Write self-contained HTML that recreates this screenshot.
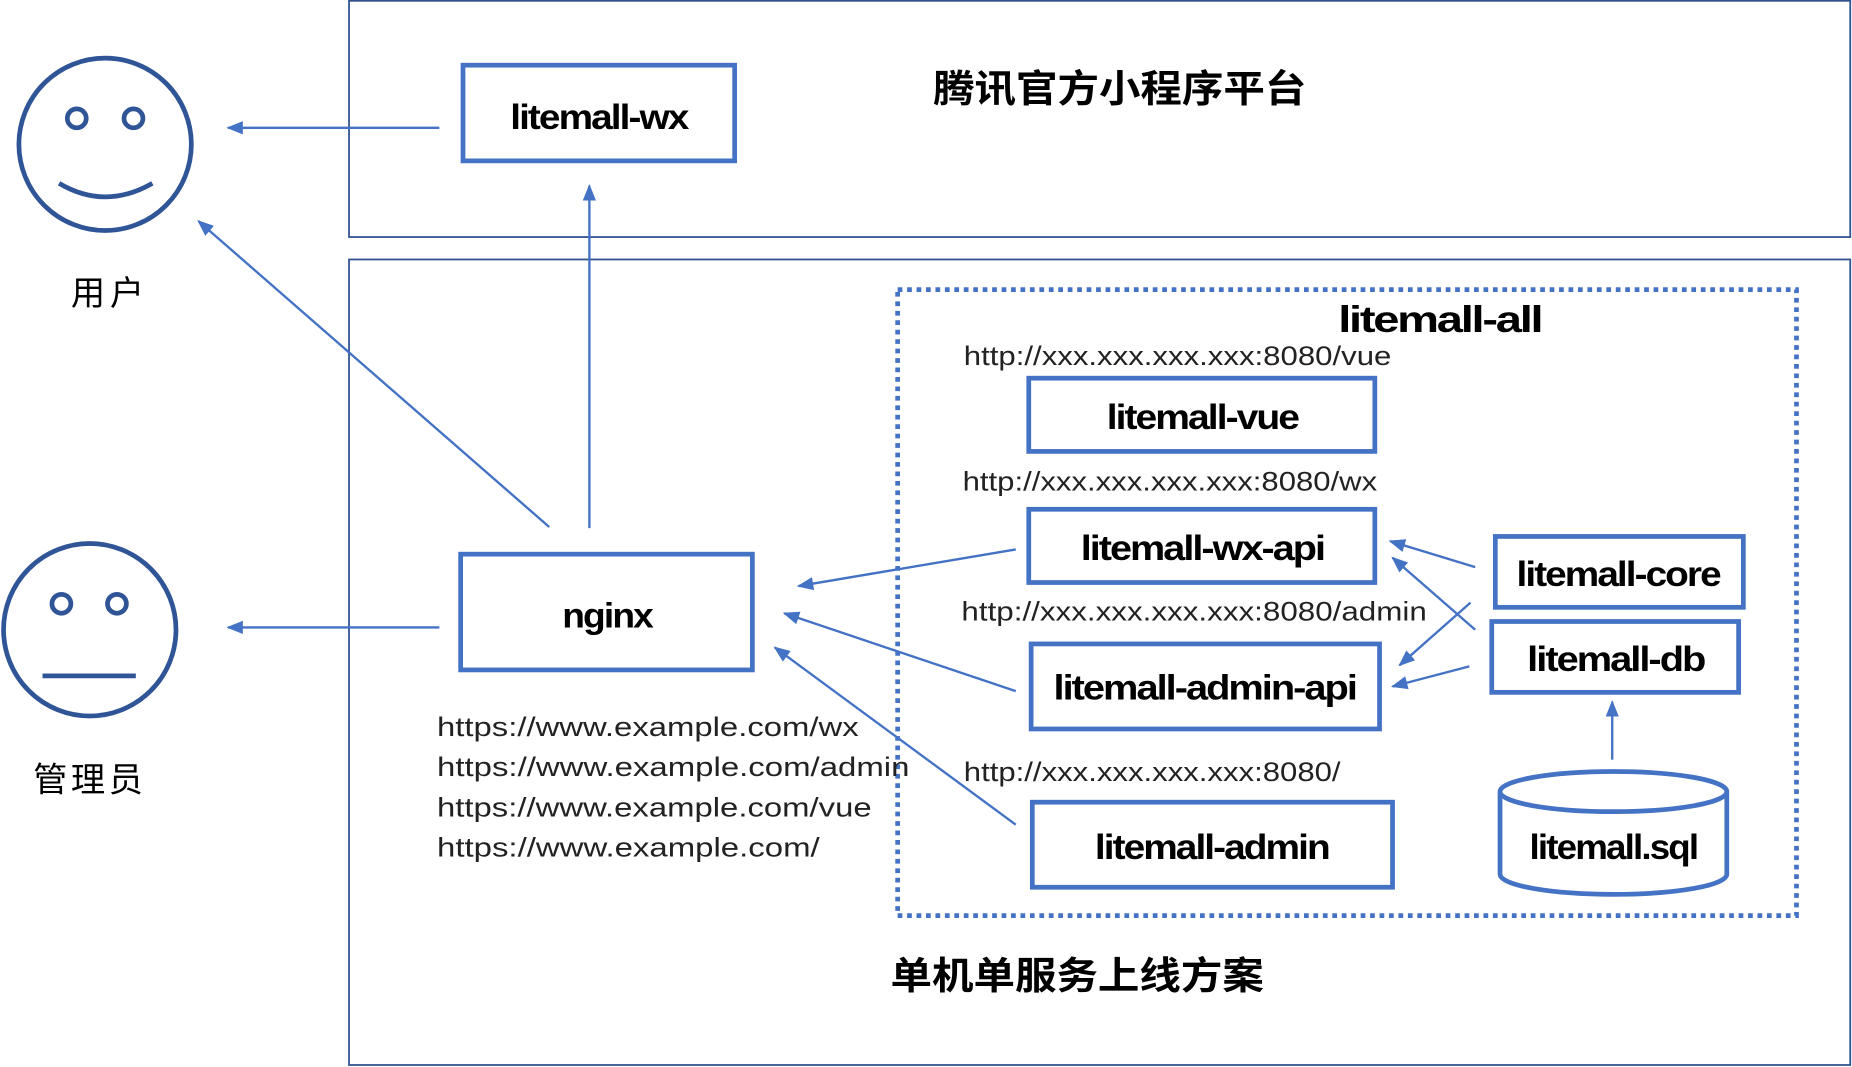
<!DOCTYPE html>
<html><head><meta charset="utf-8"><style>html,body{margin:0;padding:0;background:#fff}svg{display:block}</style></head>
<body>
<svg width="1852" height="1067" viewBox="0 0 1568 903" xmlns="http://www.w3.org/2000/svg" font-family="'Liberation Sans','Noto Sans CJK SC',sans-serif">
<defs><marker id="a" viewBox="0 0 10 10" refX="9" refY="5" markerWidth="7" markerHeight="7" orient="auto"><path d="M0,1 L10,5 L0,9 z" fill="#4472C4"/></marker></defs>
<g fill="none" stroke="#2F528F" stroke-width="1.5">
<rect x="295.5" y="0.5" width="1271" height="200"/>
<rect x="295.5" y="219.5" width="1271" height="682"/>
</g>
<rect x="760" y="245" width="761" height="530" fill="none" stroke="#4472C4" stroke-width="4" stroke-dasharray="4,4"/>
<g fill="none" stroke="#2F5597" stroke-width="4">
<circle cx="89" cy="122" r="73"/><circle cx="65" cy="100" r="8"/><circle cx="113" cy="100" r="8"/>
<path d="M50,155 Q89,178 129,155"/>
<circle cx="76" cy="533" r="73"/><circle cx="52" cy="511" r="8"/><circle cx="99" cy="511" r="8"/>
<path d="M36,572 L115,572"/>
</g>
<g fill="none" stroke="#4472C4" stroke-width="4">
<rect x="392" y="55" width="230" height="81"/>
<rect x="390" y="469" width="247" height="98"/>
<rect x="871" y="320" width="293" height="62"/>
<rect x="871" y="431" width="293" height="62"/>
<rect x="873" y="545" width="295" height="72"/>
<rect x="874" y="679" width="305" height="72"/>
<rect x="1266" y="454" width="210" height="60"/>
<rect x="1263" y="526" width="209" height="60"/>
<path d="M1270,670 L1270,740 A96,17 0 0 0 1462,740 L1462,670"/>
<ellipse cx="1366" cy="670" rx="96" ry="17"/>
</g>
<g stroke="#4472C4" stroke-width="2" fill="none" marker-end="url(#a)">
<line x1="372" y1="108" x2="193" y2="108"/>
<line x1="372" y1="531" x2="193" y2="531"/>
<line x1="499" y1="447" x2="499" y2="157"/>
<line x1="465" y1="446" x2="168" y2="187"/>
<line x1="860" y1="465" x2="676" y2="496"/>
<line x1="860" y1="585" x2="664" y2="519"/>
<line x1="860" y1="698" x2="656" y2="548"/>
<line x1="1249" y1="480" x2="1177" y2="458"/>
<line x1="1249" y1="533" x2="1179" y2="472"/>
<line x1="1245" y1="510" x2="1185" y2="563"/>
<line x1="1244" y1="564" x2="1179" y2="581"/>
<line x1="1365" y1="643" x2="1365" y2="594"/>
</g>
<g fill="#000" text-anchor="middle" font-size="30" font-weight="bold" letter-spacing="-1.5" lengthAdjust="spacingAndGlyphs">
<text x="507" y="109" textLength="150" lengthAdjust="spacingAndGlyphs">litemall-wx</text>
<text x="514" y="531" textLength="76" lengthAdjust="spacingAndGlyphs">nginx</text>
<text x="1018" y="363" textLength="162" lengthAdjust="spacingAndGlyphs">litemall-vue</text>
<text x="1018" y="474" textLength="206" lengthAdjust="spacingAndGlyphs">litemall-wx-api</text>
<text x="1020" y="592" textLength="256" lengthAdjust="spacingAndGlyphs">litemall-admin-api</text>
<text x="1026" y="727" textLength="198" lengthAdjust="spacingAndGlyphs">litemall-admin</text>
<text x="1370" y="496" textLength="172" lengthAdjust="spacingAndGlyphs">litemall-core</text>
<text x="1368" y="568" textLength="150" lengthAdjust="spacingAndGlyphs">litemall-db</text>
<text x="1366" y="727" textLength="142" lengthAdjust="spacingAndGlyphs">litemall.sql</text>
<text x="1219" y="281" font-size="31" textLength="172" lengthAdjust="spacingAndGlyphs">litemall-all</text>
</g>
<g fill="#222" font-size="23">
<text x="816" y="309" textLength="362" lengthAdjust="spacingAndGlyphs">http://xxx.xxx.xxx.xxx:8080/vue</text>
<text x="815" y="415" textLength="351" lengthAdjust="spacingAndGlyphs">http://xxx.xxx.xxx.xxx:8080/wx</text>
<text x="814" y="525" textLength="394" lengthAdjust="spacingAndGlyphs">http://xxx.xxx.xxx.xxx:8080/admin</text>
<text x="816" y="661" textLength="319" lengthAdjust="spacingAndGlyphs">http://xxx.xxx.xxx.xxx:8080/</text>
<text x="370" y="623" textLength="357" lengthAdjust="spacingAndGlyphs">https://www.example.com/wx</text>
<text x="370" y="657" textLength="400" lengthAdjust="spacingAndGlyphs">https://www.example.com/admin</text>
<text x="370" y="691" textLength="368" lengthAdjust="spacingAndGlyphs">https://www.example.com/vue</text>
<text x="370" y="725" textLength="324" lengthAdjust="spacingAndGlyphs">https://www.example.com/</text>
</g>
<g fill="#000" font-size="32" font-weight="bold">
<text x="790" y="86" textLength="316" lengthAdjust="spacingAndGlyphs">腾讯官方小程序平台</text>
<text x="754" y="837" textLength="316" lengthAdjust="spacingAndGlyphs">单机单服务上线方案</text>
<text x="60" y="258" font-size="29" font-weight="normal" textLength="62">用户</text>
<text x="28" y="670" font-size="29" font-weight="normal" textLength="93">管理员</text>
</g>
</svg>
</body></html>
